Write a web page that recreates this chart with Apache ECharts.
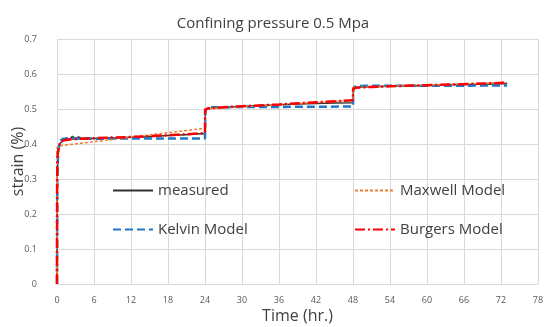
<!DOCTYPE html>
<html>
<head>
<meta charset="utf-8">
<script src="https://cdn.jsdelivr.net/npm/echarts@6/dist/echarts.min.js"></script>
<style>html,body{margin:0;padding:0;background:#fff}#c{width:546px;height:327px}</style>
</head>
<body>
<div id="c"></div>
<script>
var xTicks = [0,6,12,18,24,30,36,42,48,54,60,66,72,78];
var yTicks = [0,0.1,0.2,0.3,0.4,0.5,0.6,0.7];

var measuredT = [0,0.02,0.05,0.1,0.2,0.4,0.7,1,1.5,2,2.5,3,3.5,4,5,6,8,10,12,14,16,18,20,22,24,24.05,24.3,25,27,30,33,36,39,42,45,48,48.05,48.3,50,54,57,60,63,66,69,72,73];
var measured  = [0,0.2,0.31,0.35,0.38,0.40,0.405,0.41,0.418,0.412,0.422,0.415,0.42,0.416,0.417,0.416,0.417,0.418,0.419,0.42,0.422,0.424,0.426,0.428,0.43,0.49,0.50,0.502,0.505,0.507,0.51,0.512,0.514,0.516,0.517,0.518,0.555,0.562,0.563,0.565,0.566,0.567,0.569,0.57,0.571,0.572,0.573];

var maxwellT = [0,0.01,0.5,24,24.01,48,48.01,73];
var maxwell  = [0,0.39,0.395,0.445,0.50,0.525,0.562,0.576];

var kelvinT = [0,0.05,0.2,0.5,1,24,24.05,24.5,48,48.05,48.5,73];
var kelvin  = [0,0.3,0.38,0.41,0.415,0.416,0.495,0.505,0.507,0.56,0.566,0.567];

var burgersT = [0,0.02,0.1,0.3,0.6,1,2,4,8,12,18,24,24.02,24.5,27,30,36,42,48,48.02,48.5,51,54,60,66,73];
var burgers  = [0,0.3,0.37,0.395,0.405,0.41,0.413,0.415,0.418,0.42,0.425,0.431,0.498,0.502,0.505,0.508,0.513,0.519,0.525,0.557,0.561,0.563,0.565,0.568,0.571,0.575];

function zip(t, v){ return t.map(function(x,i){ return [x, v[i]]; }); }

var chart = echarts.init(document.getElementById('c'));
var font = 'Open Sans';
function legendAt(name, left, top){
  return {data:[name], left:left, top:top, padding:0, itemWidth:40, itemHeight:10, itemGap:4,
    itemStyle:{opacity:0},
    textStyle:{fontSize:15, color:'#404040', fontFamily:font}};
}
chart.setOption({
  animation:false,
  title:{text:'Confining pressure 0.5 Mpa', left:'center', top:11,
    textStyle:{fontSize:15, fontWeight:'normal', color:'#404040', fontFamily:font}},
  grid:{left:57, right:8, top:39, bottom:43, outerBoundsMode:'none'},
  legend:[legendAt('measured',112,183), legendAt('Maxwell Model',354,183),
          legendAt('Kelvin Model',112,222), legendAt('Burgers Model',354,222)],
  xAxis:{type:'value', min:0, max:78, interval:6,
    name:'Time (hr.)', nameLocation:'middle', nameGap:24, nameMoveOverlap:false,
    nameTextStyle:{fontSize:16, color:'#404040', fontFamily:font},
    axisLine:{show:true, lineStyle:{color:'#d9d9d9'}}, axisTick:{show:false},
    axisLabel:{fontSize:9, color:'#595959', margin:12, fontFamily:font},
    splitLine:{lineStyle:{color:'#d9d9d9'}}},
  yAxis:{type:'value', min:0, max:0.7, interval:0.1,
    name:'strain (%)', nameLocation:'middle', nameGap:31, nameMoveOverlap:false,
    nameTextStyle:{fontSize:16, color:'#404040', fontFamily:font},
    axisLine:{show:true, lineStyle:{color:'#d9d9d9'}}, axisTick:{show:false},
    axisLabel:{fontSize:9, color:'#595959', margin:20, fontFamily:font,
      formatter:function(v){ return String(Math.round(v*10)/10); }},
    splitLine:{lineStyle:{color:'#d9d9d9'}}},
  series:[
    {name:'measured', type:'line', symbol:'none', data:zip(measuredT, measured),
      lineStyle:{color:'#333333', width:1.5}, itemStyle:{color:'#333333'}},
    {name:'Kelvin Model', type:'line', symbol:'none', data:zip(kelvinT, kelvin),
      lineStyle:{color:'#1f77c9', width:2.5, type:[8,4]}, itemStyle:{color:'#1f77c9'}},
    {name:'Maxwell Model', type:'line', symbol:'none', data:zip(maxwellT, maxwell),
      lineStyle:{color:'#ed7d31', width:1.5, type:[3,2]}, itemStyle:{color:'#ed7d31'}},
    {name:'Burgers Model', type:'line', symbol:'none', data:zip(burgersT, burgers),
      lineStyle:{color:'#ff0000', width:2.5, type:[10,3,2,3]}, itemStyle:{color:'#ff0000'}}
  ]
});
</script>
</body>
</html>
